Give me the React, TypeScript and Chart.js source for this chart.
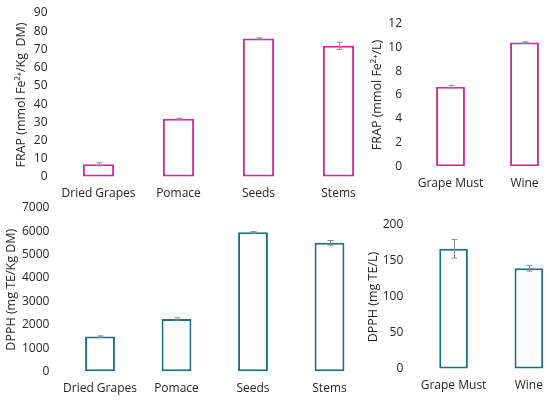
import React, { useEffect, useRef } from "react";
import { Chart, registerables } from "chart.js";

Chart.register(...registerables);

// ---- Data ----
const solidCategories = ["Dried Grapes", "Pomace", "Seeds", "Stems"];
const liquidCategories = ["Grape Must", "Wine"];

const frapSolid = [7, 32, 76, 72];
const frapSolidErr = [0.8, 0.3, 0.3, 2];
const frapLiquid = [6.7, 10.4];
const frapLiquidErr = [0.1, 0.05];

const dpphSolid = [1500, 2250, 5950, 5500];
const dpphSolidErr = [30, 50, 30, 100];
const dpphLiquid = [167, 140];
const dpphLiquidErr = [13, 4];

const MAGENTA = "#CF2A9E";
const TEAL = "#17708A";
const FONT = "'Open Sans', 'DejaVu Sans', sans-serif";

type PanelProps = {
  left: number;
  top: number;
  width: number;
  height: number;
  labels: string[];
  values: number[];
  errors: number[];
  color: string;
  yMax: number;
  yStep: number;
  title: string;
  padTop: number;
  padRight: number;
  yAxisWidth: number;
  xAxisHeight: number;
  yTickPad: number;
  xTickPad: number;
  titlePad: number;
  barPct: number;
};

const errorBarPlugin = {
  id: "errorBars",
  afterDatasetsDraw(chart: any, _args: any, opts: any) {
    const errs: number[] = opts.errors || [];
    const meta = chart.getDatasetMeta(0);
    const ys = chart.scales.y;
    const ctx = chart.ctx;
    const vals = chart.data.datasets[0].data as number[];
    ctx.save();
    ctx.strokeStyle = "#8c8c8c";
    ctx.lineWidth = 1;
    meta.data.forEach((el: any, i: number) => {
      const e = errs[i] || 0;
      const x = Math.round(el.x) + 0.5;
      const yHi = ys.getPixelForValue(vals[i] + e);
      const yLo = ys.getPixelForValue(vals[i] - e);
      const cap = 3;
      ctx.beginPath();
      ctx.moveTo(x, yHi);
      ctx.lineTo(x, yLo);
      ctx.moveTo(x - cap, yHi);
      ctx.lineTo(x + cap, yHi);
      ctx.moveTo(x - cap, yLo);
      ctx.lineTo(x + cap, yLo);
      ctx.stroke();
    });
    ctx.restore();
  },
};

function Panel(p: PanelProps) {
  const ref = useRef<HTMLCanvasElement | null>(null);
  useEffect(() => {
    if (!ref.current) return;
    const chart = new Chart(ref.current, {
      type: "bar",
      data: {
        labels: p.labels,
        datasets: [
          {
            data: p.values,
            backgroundColor: "#ffffff",
            borderColor: p.color,
            borderWidth: 2,
            borderSkipped: false,
            categoryPercentage: 1,
            barPercentage: p.barPct,
          },
        ],
      },
      options: {
        animation: false,
        responsive: false,
        devicePixelRatio: 1,
        layout: { padding: { top: p.padTop, right: p.padRight, left: 0, bottom: 0 } },
        plugins: {
          legend: { display: false },
          tooltip: { enabled: false },
          errorBars: { errors: p.errors },
        } as any,
        scales: {
          x: {
            grid: {
              display: true,
              drawOnChartArea: false,
              drawTicks: true,
              tickLength: p.xTickPad,
              color: "rgba(0,0,0,0)",
            },
            border: { display: false },
            ticks: {
              color: "#262626",
              font: { family: FONT, size: 12 },
              padding: 0,
              maxRotation: 0,
              autoSkip: false,
            },
            afterFit(scale: any) {
              scale.height = p.xAxisHeight;
            },
          },
          y: {
            min: 0,
            max: p.yMax,
            grid: {
              display: true,
              drawOnChartArea: false,
              drawTicks: true,
              tickLength: p.yTickPad,
              color: "rgba(0,0,0,0)",
            },
            border: { display: false },
            ticks: {
              stepSize: p.yStep,
              color: "#262626",
              font: { family: FONT, size: 12 },
              padding: 0,
              callback: (v: any) => String(v),
            },
            title: {
              display: true,
              text: p.title,
              color: "#262626",
              font: { family: FONT, size: 12.5 },
              padding: { top: p.titlePad, bottom: 0 },
            },
            afterFit(scale: any) {
              scale.width = p.yAxisWidth;
            },
          },
        },
      },
      plugins: [errorBarPlugin],
    });
    return () => chart.destroy();
  }, []);
  return (
    <canvas
      ref={ref}
      width={p.width}
      height={p.height}
      style={{
        position: "absolute",
        left: p.left,
        top: p.top,
        width: p.width,
        height: p.height,
      }}
    />
  );
}

export default function App() {
  return (
    <div
      style={{
        position: "fixed",
        left: 0,
        top: 0,
        width: 550,
        height: 400,
        overflow: "hidden",
        background: "#ffffff",
      }}
    >
      <Panel
        left={0}
        top={0}
        width={380}
        height={200}
        labels={solidCategories}
        values={frapSolid}
        errors={frapSolidErr}
        color={MAGENTA}
        yMax={90}
        yStep={10}
        title={"FRAP (mmol Fe²⁺/Kg  DM)"}
        padTop={13}
        padRight={1.5}
        yAxisWidth={58.5}
        xAxisHeight={23}
        yTickPad={11}
        xTickPad={9}
        titlePad={14}
        barPct={0.39}
      />
      <Panel
        left={365}
        top={0}
        width={200}
        height={200}
        labels={liquidCategories}
        values={frapLiquid}
        errors={frapLiquidErr}
        color={MAGENTA}
        yMax={12}
        yStep={2}
        title={"FRAP (mmol Fe²⁺/L)"}
        padTop={23.3}
        padRight={3.5}
        yAxisWidth={48.5}
        xAxisHeight={33.3}
        yTickPad={11.5}
        xTickPad={10}
        titlePad={5}
        barPct={0.39}
      />
      <Panel
        left={0}
        top={200}
        width={370}
        height={200}
        labels={solidCategories}
        values={dpphSolid}
        errors={dpphSolidErr}
        color={TEAL}
        yMax={7000}
        yStep={1000}
        title={"DPPH (mg TE/Kg DM)"}
        padTop={7.7}
        padRight={2.25}
        yAxisWidth={61.75}
        xAxisHeight={28.3}
        yTickPad={12.4}
        xTickPad={9.6}
        titlePad={4.3}
        barPct={0.39}
      />
      <Panel
        left={365}
        top={200}
        width={205}
        height={200}
        labels={liquidCategories}
        values={dpphLiquid}
        errors={dpphLiquidErr}
        color={TEAL}
        yMax={200}
        yStep={50}
        title={"DPPH (mg TE/L)"}
        padTop={25}
        padRight={3.5}
        yAxisWidth={50.9}
        xAxisHeight={31}
        yTickPad={12.6}
        xTickPad={9.7}
        titlePad={0.5}
        barPct={0.38}
      />
    </div>
  );
}
